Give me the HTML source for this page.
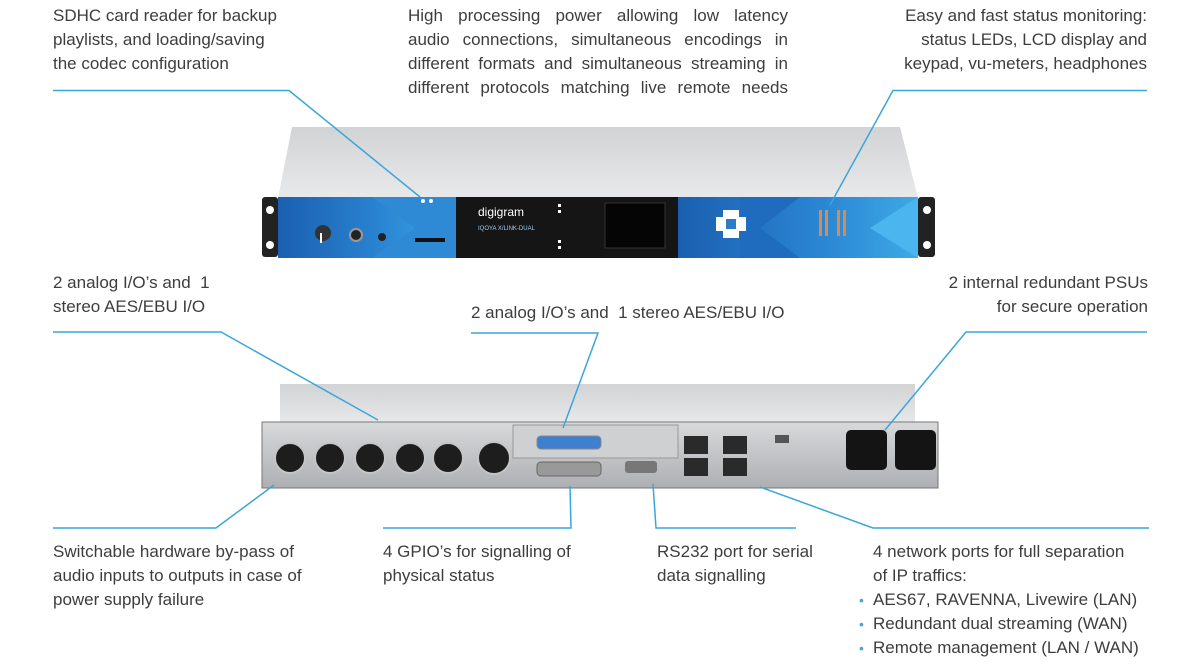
<!DOCTYPE html>
<html><head><meta charset="utf-8">
<style>
html,body{margin:0;padding:0;background:#fff;}
body{width:1200px;height:671px;position:relative;overflow:hidden;font-family:"Liberation Sans",sans-serif;color:#3d3d3d;}
.t{position:absolute;font-size:17px;line-height:24px;white-space:nowrap;}
.r{text-align:right;}
.j div{text-align:justify;text-align-last:justify;white-space:nowrap;}
svg{position:absolute;left:0;top:0;}
.dot{color:#4aa8d8;font-size:14px;margin-left:-14px;display:inline-block;width:14px;}
</style></head><body>
<svg width="1200" height="671" viewBox="0 0 1200 671">
<defs>
<linearGradient id="top" x1="0" y1="0" x2="0" y2="1"><stop offset="0" stop-color="#d2d3d5"/><stop offset="1" stop-color="#e8e9eb"/></linearGradient>
<linearGradient id="blue" x1="0" y1="0" x2="1" y2="0"><stop offset="0" stop-color="#1b5fb0"/><stop offset="0.6" stop-color="#2a86d3"/><stop offset="1" stop-color="#3ea9e6"/></linearGradient>
<linearGradient id="rear" x1="0" y1="0" x2="0" y2="1"><stop offset="0" stop-color="#d8d9db"/><stop offset="1" stop-color="#aeafb2"/></linearGradient>
</defs>
<polygon points="292,127 900,127 918,198 278,198" fill="url(#top)"/>
<rect x="262" y="197" width="16" height="60" rx="3" fill="#222"/>
<rect x="918" y="197" width="17" height="60" rx="3" fill="#222"/>
<circle cx="270" cy="210" r="4" fill="#fff"/><circle cx="270" cy="245" r="4" fill="#fff"/>
<circle cx="927" cy="210" r="4" fill="#fff"/><circle cx="927" cy="245" r="4" fill="#fff"/>
<rect x="278" y="197" width="178" height="61" fill="url(#blue)"/>
<polygon points="372,197 456,197 456,258 372,258 415,228" fill="#2f8ad6"/>
<rect x="456" y="197" width="222" height="61" fill="#151515"/>
<rect x="678" y="197" width="240" height="61" fill="url(#blue)"/>
<polygon points="870,228 918,197 918,258" fill="#4ab5ee"/>
<polygon points="740,197 800,197 760,228 800,258 740,258" fill="#1f6cbf"/>
<circle cx="323" cy="233" r="8" fill="#333"/><rect x="320" y="233" width="2" height="10" fill="#fff"/>
<circle cx="356" cy="235" r="6" fill="#222" stroke="#999" stroke-width="2"/>
<circle cx="382" cy="237" r="4" fill="#222"/>
<rect x="415" y="238" width="30" height="4" fill="#111"/>
<circle cx="423" cy="201" r="2" fill="#fff"/><circle cx="431" cy="201" r="2" fill="#fff"/>
<text x="478" y="216" font-family="Liberation Sans" font-size="12" fill="#fff">digigram</text>
<text x="478" y="230" font-family="Liberation Sans" font-size="6" fill="#9ccff0">IQOYA X/LINK-DUAL</text>
<rect x="605" y="203" width="60" height="45" fill="#050505" stroke="#333"/>
<rect x="558" y="204" width="3" height="3" fill="#fff"/><rect x="558" y="210" width="3" height="3" fill="#fff"/>
<rect x="558" y="240" width="3" height="3" fill="#fff"/><rect x="558" y="246" width="3" height="3" fill="#fff"/>
<rect x="723" y="210" width="16" height="28" fill="#fff"/><rect x="716" y="217" width="30" height="14" fill="#fff"/>
<rect x="726" y="219" width="10" height="10" fill="#2a7cc9"/>
<g fill="#d98a50"><rect x="819" y="210" width="3" height="26"/><rect x="825" y="210" width="3" height="26"/><rect x="837" y="210" width="3" height="26"/><rect x="843" y="210" width="3" height="26"/></g>
<polygon points="280,384 915,384 915,425 280,425" fill="url(#top)"/>
<rect x="262" y="422" width="676" height="66" fill="url(#rear)" stroke="#777"/>
<g fill="#1d1d1d" stroke="#c5c5c5" stroke-width="2">
<circle cx="290" cy="458" r="15"/><circle cx="330" cy="458" r="15"/><circle cx="370" cy="458" r="15"/><circle cx="410" cy="458" r="15"/><circle cx="448" cy="458" r="15"/><circle cx="494" cy="458" r="16"/>
</g>
<rect x="513" y="425" width="165" height="33" fill="#cfd0d2" stroke="#999"/>
<rect x="537" y="436" width="64" height="13" rx="4" fill="#3f7fd0" stroke="#888"/>
<rect x="537" y="462" width="64" height="14" rx="4" fill="#999" stroke="#666"/>
<rect x="625" y="461" width="32" height="12" rx="3" fill="#777"/>
<g fill="#2a2a2a"><rect x="684" y="436" width="24" height="18"/><rect x="684" y="458" width="24" height="18"/><rect x="723" y="436" width="24" height="18"/><rect x="723" y="458" width="24" height="18"/></g>
<rect x="775" y="435" width="14" height="8" fill="#555"/>
<rect x="846" y="430" width="41" height="40" rx="5" fill="#141414"/>
<rect x="895" y="430" width="41" height="40" rx="5" fill="#141414"/>
<g stroke="#3aa6d8" stroke-width="1.5" fill="none">
<polyline points="53,90.5 289,90.5 420,197"/>
<polyline points="1147,90.5 893,90.5 830,205"/>
<polyline points="53,332 221,332 378,420"/>
<polyline points="471,333 598,333 563,428"/>
<polyline points="1147,332 966,332 885,430"/>
<polyline points="53,528 216,528 274,485"/>
<polyline points="383,528 571,528 570,486"/>
<polyline points="653,484 656,528 796,528"/>
<polyline points="1149,528 873,528 760,487"/>
</g>
</svg>
<div class="t" style="left:53px;top:4px">SDHC card reader for backup<br>playlists, and loading/saving<br>the codec configuration</div>
<div class="t j" style="left:408px;top:4px;width:380px"><div>High processing power allowing low latency</div><div>audio connections, simultaneous encodings in</div><div>different formats and simultaneous streaming in</div><div>different protocols matching live remote needs</div></div>
<div class="t r" style="right:53px;top:4px">Easy and fast status monitoring:<br>status LEDs, LCD display and<br>keypad, vu-meters, headphones</div>
<div class="t" style="left:53px;top:271px">2 analog I/O’s and &nbsp;1<br>stereo AES/EBU I/O</div>
<div class="t" style="left:471px;top:301px">2 analog I/O’s and &nbsp;1 stereo AES/EBU I/O</div>
<div class="t r" style="right:52px;top:271px">2 internal redundant PSUs<br>for secure operation</div>
<div class="t" style="left:53px;top:540px">Switchable hardware by-pass of<br>audio inputs to outputs in case of<br>power supply failure</div>
<div class="t" style="left:383px;top:540px">4 GPIO’s for signalling of<br>physical status</div>
<div class="t" style="left:657px;top:540px">RS232 port for serial<br>data signalling</div>
<div class="t" style="left:873px;top:540px">4 network ports for full separation<br>of IP traffics:<br><span class="dot">•</span>AES67, RAVENNA, Livewire (LAN)<br><span class="dot">•</span>Redundant dual streaming (WAN)<br><span class="dot">•</span>Remote management (LAN / WAN)</div>
</body></html>
